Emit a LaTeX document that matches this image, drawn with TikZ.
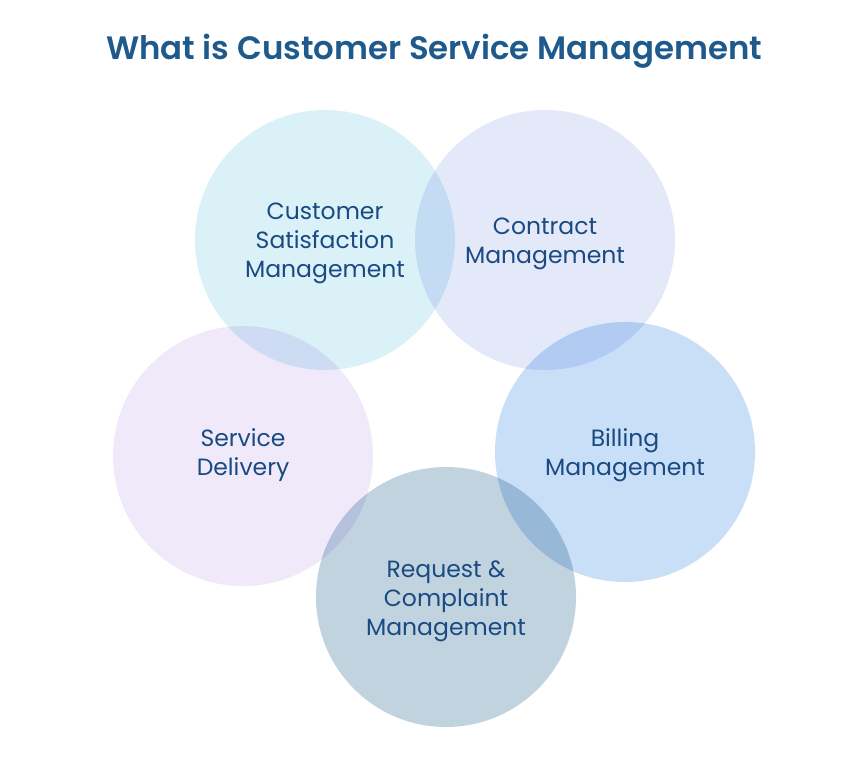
\documentclass[tikz,border=0pt]{standalone}
\usepackage{fontspec}
\setmainfont{Poppins}[BoldFont={* SemiBold}]
\newfontfamily\labfont{Poppins}
\definecolor{titlec}{HTML}{1E5A8C}
\definecolor{labc}{HTML}{1A4A82}
\definecolor{cA}{HTML}{DBF1F8}
\definecolor{cB}{HTML}{E4E9FA}
\definecolor{cC}{HTML}{C8DFF7}
\definecolor{cD}{HTML}{C2D3E0}
\definecolor{cE}{HTML}{EFE9FA}
\begin{document}
\begin{tikzpicture}[x=1pt,y=-1pt,
  bubble/.style={circle,minimum size=260pt,inner sep=0pt},
  lab/.style={text=labc,align=center,font=\labfont\fontsize{23.5}{29}\selectfont}]
\useasboundingbox (0,0) rectangle (866,758);
\fill[white] (0,0) rectangle (866,758);
\node[font=\bfseries\fontsize{32.4}{38}\selectfont,text=titlec] (title) at (434,51) {What is Customer Service Management};
\begin{scope}[blend group=multiply]
\node[bubble,fill=cA] (csm) at (325,240) {};
\node[bubble,fill=cB] (cm) at (545,240) {};
\node[bubble,fill=cE] (sd) at (243,456) {};
\node[bubble,fill=cC] (bm) at (625,452) {};
\node[bubble,fill=cD] (rcm) at (446,597) {};
\end{scope}
\node[lab] (tcsm) at (325,243) {Customer\\Satisfaction\\Management};
\node[lab] (tcm) at (545,243.5) {Contract\\Management};
\node[lab] (tsd) at (243,455) {Service\\Delivery};
\node[lab] (tbm) at (625,455) {Billing\\Management};
\node[lab] (trcm) at (446,601) {Request \&\\Complaint\\Management};
\end{tikzpicture}
\end{document}
